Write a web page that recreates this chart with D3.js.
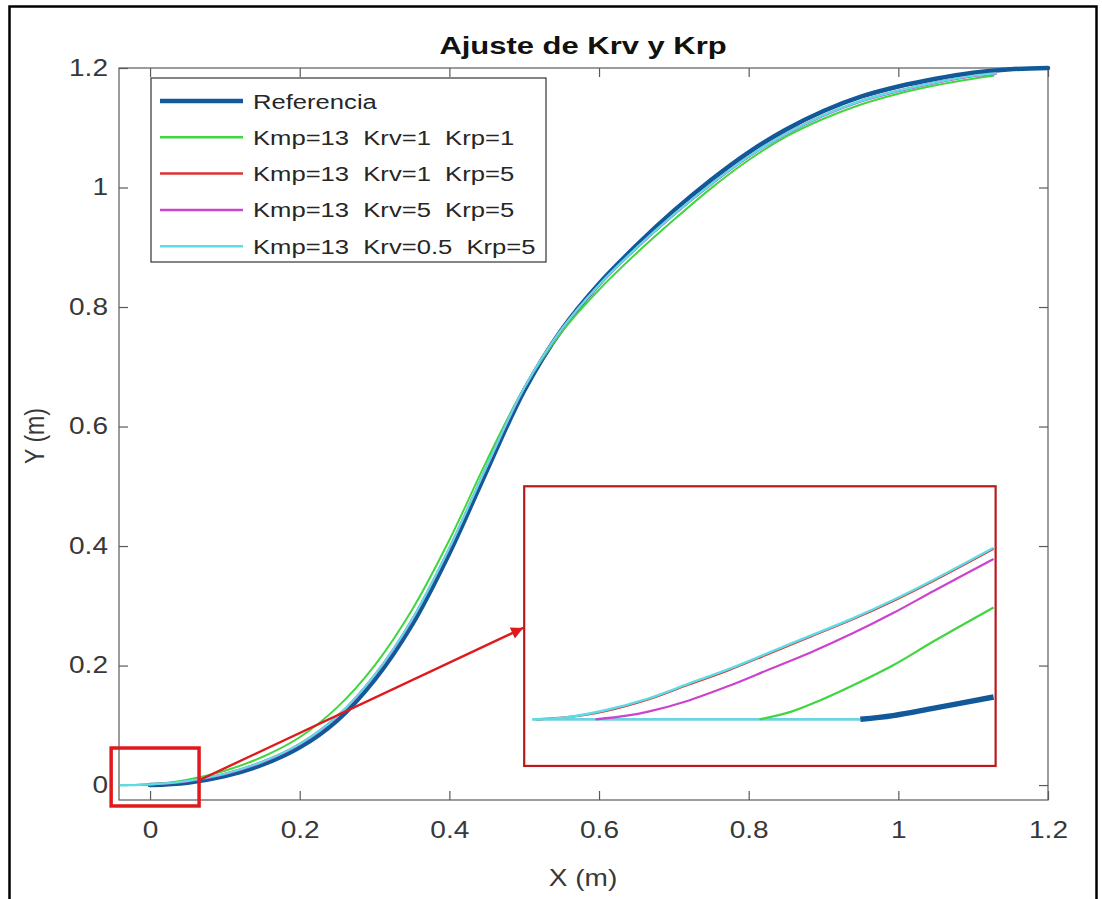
<!DOCTYPE html>
<html>
<head>
<meta charset="utf-8">
<script src="https://cdn.jsdelivr.net/npm/d3@7"></script>
<style>
  body { margin: 0; background: #fff; }
  text { font-family: "Liberation Sans", Arial, sans-serif; }
</style>
</head>
<body>
<svg id="chart" width="1102" height="899"></svg>
<script>
// tick labels
const xTicks = [0, 0.2, 0.4, 0.6, 0.8, 1, 1.2];
const yTicks = [0, 0.2, 0.4, 0.6, 0.8, 1, 1.2];

// series
const refX = [0, 0.05, 0.1, 0.15, 0.2, 0.25, 0.3, 0.35, 0.4, 0.45, 0.5, 0.55, 0.6, 0.65, 0.7, 0.75, 0.8, 0.85, 0.9, 0.95, 1.0, 1.05, 1.1, 1.15, 1.2];
const refY = [0, 0.004, 0.015, 0.034, 0.063, 0.108, 0.176, 0.268, 0.388, 0.526, 0.66, 0.762, 0.839, 0.903, 0.961, 1.013, 1.059, 1.097, 1.128, 1.152, 1.169, 1.182, 1.192, 1.198, 1.2];

const greenX = [-0.02, 0, 0.05, 0.1, 0.15, 0.2, 0.25, 0.3, 0.35, 0.4, 0.45, 0.5, 0.55, 0.6, 0.65, 0.7, 0.75, 0.8, 0.85, 0.9, 0.95, 1.0, 1.05, 1.1, 1.127];
const greenY = [0, 0.001, 0.009, 0.024, 0.047, 0.08, 0.13, 0.2, 0.293, 0.41, 0.543, 0.665, 0.758, 0.829, 0.89, 0.946, 0.999, 1.046, 1.085, 1.115, 1.139, 1.157, 1.171, 1.182, 1.187];

const redX = [-0.04, -0.02, 0, 0.05, 0.1, 0.15, 0.2, 0.25, 0.3, 0.35, 0.4, 0.45, 0.5, 0.55, 0.6, 0.65, 0.7, 0.75, 0.8, 0.85, 0.9, 0.95, 1.0, 1.05, 1.1, 1.13];
const redY = [0, 0, 0.001, 0.007, 0.019, 0.039, 0.069, 0.115, 0.184, 0.277, 0.397, 0.534, 0.665, 0.763, 0.837, 0.899, 0.955, 1.006, 1.052, 1.09, 1.121, 1.145, 1.162, 1.176, 1.187, 1.191];

const magX = [-0.032, -0.02, 0, 0.05, 0.1, 0.15, 0.2, 0.25, 0.3, 0.35, 0.4, 0.45, 0.5, 0.55, 0.6, 0.65, 0.7, 0.75, 0.8, 0.85, 0.9, 0.95, 1.0, 1.05, 1.1, 1.13];
const magY = [0, 0, 0.001, 0.006, 0.018, 0.038, 0.068, 0.114, 0.183, 0.276, 0.396, 0.533, 0.664, 0.762, 0.836, 0.898, 0.954, 1.005, 1.051, 1.089, 1.12, 1.144, 1.161, 1.175, 1.186, 1.19];

const cyanX = [-0.04, -0.02, 0, 0.05, 0.1, 0.15, 0.2, 0.25, 0.3, 0.35, 0.4, 0.45, 0.5, 0.55, 0.6, 0.65, 0.7, 0.75, 0.8, 0.85, 0.9, 0.95, 1.0, 1.05, 1.1, 1.13];
const cyanY = [0, 0, 0.001, 0.007, 0.019, 0.039, 0.069, 0.115, 0.184, 0.277, 0.397, 0.534, 0.665, 0.763, 0.837, 0.899, 0.955, 1.006, 1.052, 1.09, 1.121, 1.145, 1.162, 1.176, 1.187, 1.191];

// zoomed inset series
const inRefX = [-0.048, 0.032, 0.04, 0.05, 0.0645];
const inRefY = [0, 0, 0.0002, 0.0006, 0.0012];
const inGreenX = [0.0074, 0.015, 0.022, 0.03, 0.04, 0.05, 0.0645];
const inGreenY = [0, 0.0004, 0.001, 0.0018, 0.0029, 0.0042, 0.006];
const inRedX = [-0.047, -0.04, -0.03, -0.02, -0.01, 0, 0.01, 0.02, 0.03, 0.04, 0.05, 0.0645];
const inRedY = [0, 0.0001, 0.00045, 0.00105, 0.00185, 0.00265, 0.00355, 0.00445, 0.00535, 0.00635, 0.00745, 0.00915];
const inMagX = [-0.0326, -0.025, -0.02, -0.01, 0, 0.01, 0.02, 0.03, 0.04, 0.05, 0.0645];
const inMagY = [0, 0.0002, 0.0004, 0.001, 0.0018, 0.0027, 0.0036, 0.0046, 0.0057, 0.0069, 0.0086];
const inCyanX = [-0.048, -0.04, -0.03, -0.02, -0.01, 0, 0.01, 0.02, 0.03, 0.04, 0.05, 0.0645];
const inCyanY = [0, 0.0001, 0.0005, 0.0011, 0.0019, 0.0027, 0.0036, 0.0045, 0.0054, 0.0064, 0.0075, 0.0092];

const names = ["Referencia", "Kmp=13  Krv=1  Krp=1", "Kmp=13  Krv=1  Krp=5", "Kmp=13  Krv=5  Krp=5", "Kmp=13  Krv=0.5  Krp=5"];
const colors = ["#12599a", "#3fd63f", "#dc3434", "#cc44cc", "#5cdde6"];
const widths = [4.5, 2, 2, 2, 2.2];

const svg = d3.select("#chart");
const sx = 1.22; // glyphs in the picture are a bit wider than the font

const x = d3.scaleLinear().domain([-0.0415, 1.2]).range([119, 1048]);
const y = d3.scaleLinear().domain([-0.025, 1.2]).range([800, 68]);

// outer frame
svg.append("rect").attr("x", 9.5).attr("y", 6.5).attr("width", 1087).attr("height", 905)
  .attr("fill", "none").attr("stroke", "#000").attr("stroke-width", 2.5);

const toPts = (xs, ys) => xs.map((v, i) => [v, ys[i]]);
const series = [toPts(refX, refY), toPts(greenX, greenY), toPts(redX, redY), toPts(magX, magY), toPts(cyanX, cyanY)];

// axes (box with inward ticks)
const axisColor = "#5a5a5a";
function styleAxis(g) {
  g.select(".domain").remove();
  g.selectAll("line").attr("stroke", axisColor).attr("stroke-width", 1.2);
  g.selectAll("text").attr("fill", "#383838").style("font-size", "23px");
}
const fmt = d => String(d);

svg.append("g").attr("transform", "translate(0,800)")
  .call(d3.axisBottom(x).tickValues(xTicks).tickFormat(fmt).tickSizeInner(-9).tickSizeOuter(0).tickPadding(22))
  .call(styleAxis)
  .selectAll("text").attr("transform", `scale(${sx},1)`);

svg.append("g").attr("transform", "translate(0,68)")
  .call(d3.axisTop(x).tickValues(xTicks).tickFormat("").tickSizeInner(-9).tickSizeOuter(0))
  .call(styleAxis);

svg.append("g").attr("transform", "translate(119,0)")
  .call(d3.axisLeft(y).tickValues(yTicks).tickFormat(fmt).tickSizeInner(-9).tickSizeOuter(0).tickPadding(11))
  .call(styleAxis)
  .selectAll("text").attr("x", -11 / sx).attr("transform", `scale(${sx},1)`);

svg.append("g").attr("transform", "translate(1048,0)")
  .call(d3.axisRight(y).tickValues(yTicks).tickFormat("").tickSizeInner(-9).tickSizeOuter(0))
  .call(styleAxis);

svg.append("rect").attr("x", 119).attr("y", 68).attr("width", 1048 - 119).attr("height", 800 - 68)
  .attr("fill", "none").attr("stroke", axisColor).attr("stroke-width", 1.2);

// curves
const line = d3.line().x(d => x(d[0])).y(d => y(d[1])).curve(d3.curveCatmullRom.alpha(0.5));
series.forEach((s, i) => {
  svg.append("path").datum(s).attr("d", line)
    .attr("fill", "none").attr("stroke", colors[i]).attr("stroke-width", widths[i])
    .attr("stroke-linecap", "round");
});

// title and axis labels
function label(txt, px, py, size, weight, stretch, rot) {
  const t = svg.append("text").text(txt)
    .attr("text-anchor", "middle").attr("fill", weight === "bold" ? "#111" : "#383838")
    .style("font-size", size + "px").style("font-weight", weight);
  if (rot) t.attr("transform", `translate(${px},${py}) rotate(-90) scale(1,${stretch})`);
  else t.attr("transform", `translate(${px},${py}) scale(${stretch},1)`);
  return t;
}
label("Ajuste de Krv y Krp", 583, 54, 24, "bold", 1.29);
label("X (m)", 583, 886, 23, "normal", sx);
label("Y (m)", 44, 436, 23, "normal", sx, true);

// legend
const leg = svg.append("g");
leg.append("rect").attr("x", 151).attr("y", 78).attr("width", 395).attr("height", 184)
  .attr("fill", "#fff").attr("stroke", "#333").attr("stroke-width", 1.2);
names.forEach((n, i) => {
  const ly = 101 + i * 36.3;
  leg.append("line").attr("x1", 160).attr("x2", 243).attr("y1", ly).attr("y2", ly)
    .attr("stroke", colors[i]).attr("stroke-width", i === 0 ? 4.5 : 2.5);
  leg.append("text").text(n).attr("dy", "0.36em")
    .attr("transform", `translate(253,${ly}) scale(${sx},1)`)
    .style("font-size", "21px").style("white-space", "pre").attr("fill", "#262626");
});

// zoom box, arrow and inset
const zx0 = -0.052, zx1 = 0.0655, zy0 = -0.035, zy1 = 0.062;
svg.append("rect").attr("x", x(zx0)).attr("y", y(zy1))
  .attr("width", x(zx1) - x(zx0)).attr("height", y(zy0) - y(zy1))
  .attr("fill", "none").attr("stroke", "#e0191c").attr("stroke-width", 3.5);

const defs = svg.append("defs");
defs.append("marker").attr("id", "head").attr("viewBox", "0 0 10 10")
  .attr("refX", 10).attr("refY", 5).attr("markerWidth", 6).attr("markerHeight", 5)
  .attr("markerUnits", "strokeWidth").attr("orient", "auto")
  .append("path").attr("d", "M0,0 L10,5 L0,10 z").attr("fill", "#e0191c");

const ix0 = 0.5, ix1 = 1.13, iy0 = 0.032, iy1 = 0.5;
svg.append("line").attr("x1", x(zx1)).attr("y1", y(0.008)).attr("x2", x(ix0) - 1).attr("y2", y(0.263))
  .attr("stroke", "#e0191c").attr("stroke-width", 2.4).attr("marker-end", "url(#head)");

const inset = svg.append("g");
inset.append("rect").attr("x", x(ix0)).attr("y", y(iy1))
  .attr("width", x(ix1) - x(ix0)).attr("height", y(iy0) - y(iy1)).attr("fill", "#fff");
defs.append("clipPath").attr("id", "inclip").append("rect")
  .attr("x", x(ix0)).attr("y", y(iy1)).attr("width", x(ix1) - x(ix0)).attr("height", y(iy0) - y(iy1));

const ixs = d3.scaleLinear().domain([-0.05, 0.065]).range([x(ix0), x(ix1)]);
const iys = d3.scaleLinear().domain([-0.0025, 0.0125]).range([y(iy0), y(iy1)]);
const iline = d3.line().x(d => ixs(d[0])).y(d => iys(d[1])).curve(d3.curveCatmullRom.alpha(0.5));
const ic = inset.append("g").attr("clip-path", "url(#inclip)");

const inRef = toPts(inRefX, inRefY);
ic.append("path").datum(inRef.filter((d, i) => i < 2)).attr("d", iline)
  .attr("fill", "none").attr("stroke", "#6cd3e4").attr("stroke-width", 2.6);
ic.append("path").datum(inRef.filter((d, i) => i >= 1)).attr("d", iline)
  .attr("fill", "none").attr("stroke", colors[0]).attr("stroke-width", 5.5);
[[inGreenX, inGreenY, 1], [inRedX, inRedY, 2], [inMagX, inMagY, 3], [inCyanX, inCyanY, 4]].forEach(([xs, ys, c]) => {
  ic.append("path").datum(toPts(xs, ys)).attr("d", iline)
    .attr("fill", "none").attr("stroke", colors[c]).attr("stroke-width", c === 4 ? 2.4 : 2.2);
});

inset.append("rect").attr("x", x(ix0)).attr("y", y(iy1))
  .attr("width", x(ix1) - x(ix0)).attr("height", y(iy0) - y(iy1))
  .attr("fill", "none").attr("stroke", "#b8191c").attr("stroke-width", 2.2);
</script>
</body>
</html>
